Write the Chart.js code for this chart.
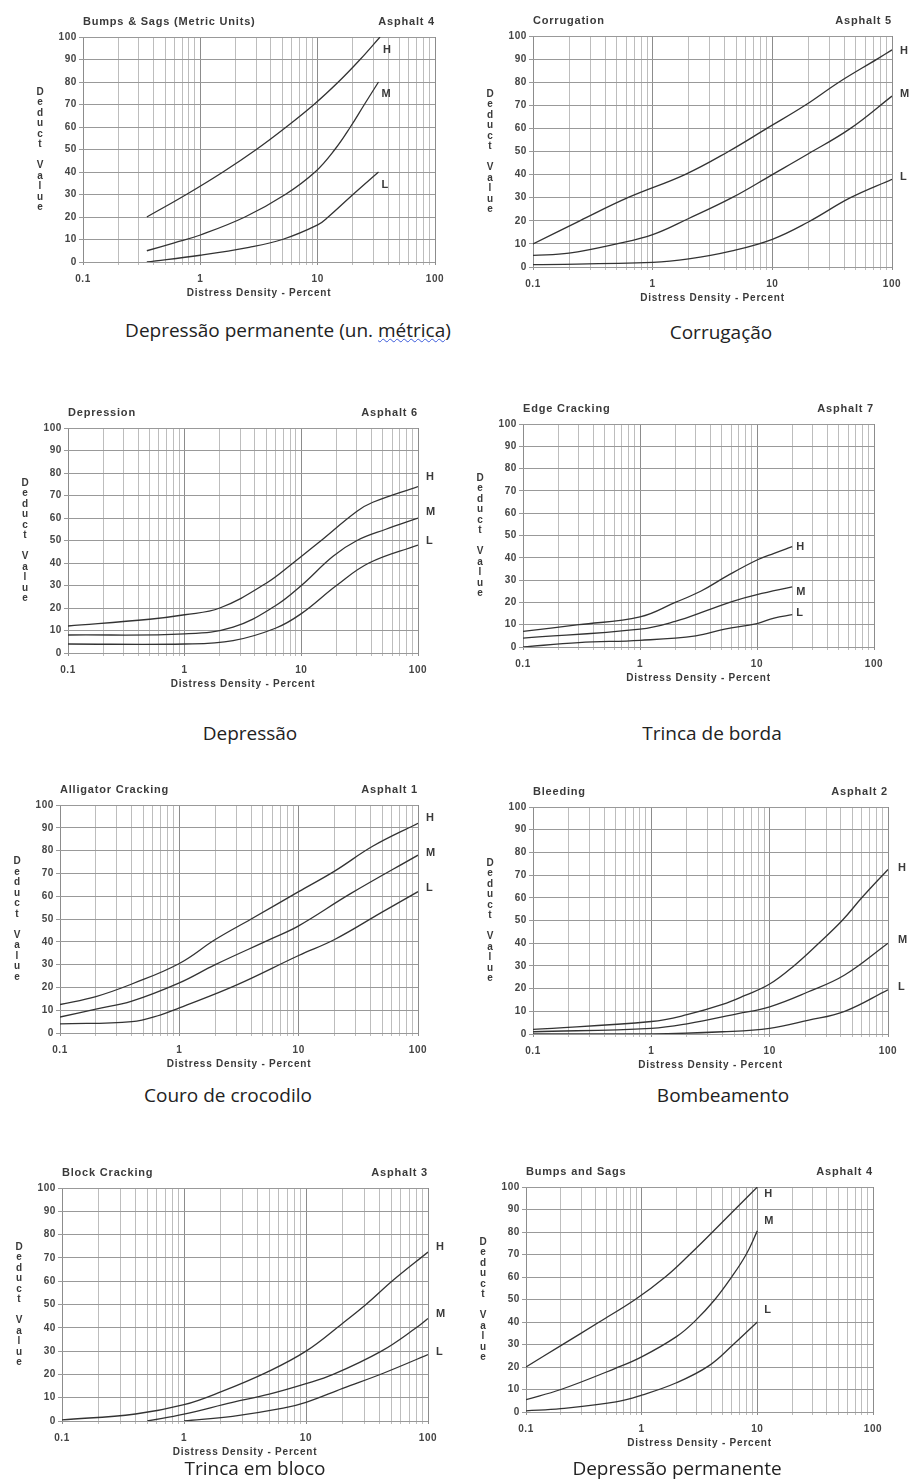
<!DOCTYPE html>
<html lang="pt">
<head>
<meta charset="UTF-8">
<title>Curvas de valor dedutível - revestimento asfáltico</title>
<script src="https://cdn.jsdelivr.net/npm/chart.js@4.4.1/dist/chart.umd.min.js"></script>
<style>
  body { margin: 0; background: #fff; }
  #page { position: relative; width: 913px; height: 1482px; overflow: hidden; }
  canvas { position: absolute; }
  .caption {
    position: absolute;
    transform: translateX(-50%);
    white-space: nowrap;
    font-family: "Open Sans", sans-serif;
    font-size: 19px;
    line-height: 24px;
    color: #222;
  }
  .wavy { text-decoration: underline wavy #3b5bdb; text-decoration-thickness: 1px; }
</style>
</head>
<body>
<div id="page"></div>
<script>
// severity levels and labelled log ticks
var levels = ["H", "M", "L"];
var xLabels = [0.1, 1, 10, 100];

var titles = ["Bumps & Sags (Metric Units)", "Corrugation", "Depression", "Edge Cracking",
              "Alligator Cracking", "Bleeding", "Block Cracking", "Bumps and Sags"];
var asphalt = ["Asphalt 4", "Asphalt 5", "Asphalt 6", "Asphalt 7",
               "Asphalt 1", "Asphalt 2", "Asphalt 3", "Asphalt 4"];
var captions = ["Depressão permanente (un. métrica)", "Corrugação", "Depressão", "Trinca de borda",
                "Couro de crocodilo", "Bombeamento", "Trinca em bloco", "Depressão permanente"];

// curve points [distress density %, deduct value]
var bumpsMetricH = [[0.35,20],[0.76,30],[1.56,40],[3,50],[5.4,60],[9.3,70],[15,80],[23,90],[34,100]];
var bumpsMetricM = [[0.35,5],[0.6,8.5],[1,12],[2.4,20],[5.3,30],[9.5,40],[14,50],[19,60],[25,70],[33,80]];
var bumpsMetricL = [[0.35,0],[1,3],[2.6,6.5],[5,10],[10,16.5],[12.3,20],[20,30],[33,40]];

var corrugationH = [[0.1,10],[0.246,20],[0.62,30],[1.86,40],[4.3,50],[9,60],[18.8,70],[36,80],[75,90],[100,94]];
var corrugationM = [[0.1,5],[0.2,6],[0.5,10],[1,14],[2,21],[4.6,30],[10,40],[20,49],[45,60],[100,74]];
var corrugationL = [[0.1,1],[1,2],[2,3.5],[4.6,7],[10,12],[20,19.5],[45,30],[100,38]];

var depressionH = [[0.1,12],[0.5,15],[1,17],[2,20],[5,31],[8.5,40],[14,49],[30,63],[41,67],[100,74]];
var depressionM = [[0.1,8],[1,8.5],[2.6,11.5],[6,21],[10,30],[18.7,43],[30,50],[53,55],[100,60]];
var depressionL = [[0.1,4],[1,4],[2.6,5.5],[6,11],[10,17.5],[20,30],[38,40],[100,48]];

var edgeH = [[0.1,7],[0.3,10],[1,13.5],[2,20],[3.3,25],[5.6,32],[10,39],[14,42],[20,45]];
var edgeM = [[0.1,4],[1,8],[2,11.5],[3.8,16.5],[6.2,20.5],[10,23.5],[20,27]];
var edgeL = [[0.1,0],[0.3,2],[1,3],[3,5],[5.3,8],[10,10.5],[14,13],[20,14.5]];

var alligatorH = [[0.1,12.5],[0.2,16],[0.4,21.5],[1,30.5],[2,41],[4,50],[10,62],[20,71],[42,82],[100,92]];
var alligatorM = [[0.1,7],[0.2,10.5],[0.4,14],[1,22],[2,30],[6,41.5],[10,47],[27,61],[100,78]];
var alligatorL = [[0.1,4],[0.4,5],[0.7,8],[1,11],[3,21],[10,34],[20,41],[50,53],[100,62]];

var bleedingH = [[0.1,2],[1,5.5],[2,8.5],[4,13],[6.2,17],[10,22],[16,30],[26,40],[41,50],[60,60],[100,72.5]];
var bleedingM = [[0.1,1],[1,2.5],[2,4.5],[5.4,9],[10,12],[21,18.5],[43,26],[100,40]];
var bleedingL = [[0.1,0],[1,0],[4,1],[10,2.5],[21,6],[43,10],[100,19.5]];

var blockH = [[0.1,0.5],[0.4,3],[1,7],[2,12.5],[4.8,21],[10,30],[20,42],[31,50],[52,60.5],[100,72.5]];
var blockM = [[0.5,0],[1,3],[2.5,8],[5,11.5],[10,16],[16.7,20],[41.5,30],[80,40],[100,44]];
var blockL = [[1,0],[2.5,2],[6.5,5.5],[10,8],[20,14],[43,20.5],[100,28.5]];

var bumpsH = [[0.1,20],[0.2,29.5],[0.43,40],[0.88,50],[1.6,60],[2.6,70],[4.1,80],[6.4,90],[10,100]];
var bumpsM = [[0.1,5.5],[0.2,10],[0.6,19.5],[1,24.5],[2,33.5],[2.9,40.5],[4.3,50],[6,60],[8,70],[10,80.5]];
var bumpsL = [[0.1,0.5],[0.2,1.5],[0.6,4.5],[1,7.5],[2,13],[3.8,20.5],[6.2,30],[10,40]];

var curves = [
  [bumpsMetricH, bumpsMetricM, bumpsMetricL],
  [corrugationH, corrugationM, corrugationL],
  [depressionH, depressionM, depressionL],
  [edgeH, edgeM, edgeL],
  [alligatorH, alligatorM, alligatorL],
  [bleedingH, bleedingM, bleedingL],
  [blockH, blockM, blockL],
  [bumpsH, bumpsM, bumpsL]
];

// layout: plot box on the page, caption centre, H/M/L label offsets
var plots = [[83,37,435,262],[533,36,892,267],[68,428,418,653],[523,424,874,647],
             [60,805,418,1033],[533,807,888,1034],[62,1188,428,1421],[526,1187,873,1412]];
var capPos = [[288,330],[721,332],[250,733],[712,733],[228,1095],[723,1095],[255,1468],[677,1468]];
var labelOff = [
  [[3,13],[3,12],[3,13]],
  [[8,1],[8,-2],[8,-2]],
  [[8,-10],[8,-6],[8,-4]],
  [[4,0],[4,5],[4,-2]],
  [[8,-5],[8,-2],[8,-4]],
  [[10,-1],[10,-3],[10,-3]],
  [[8,-5],[8,-5],[8,-3]],
  [[7,7],[7,-10],[7,-12]]
];

var PAD_L = 90, PAD_T = 30, PAD_R = 35, PAD_B = 40;
var FONT = '"Liberation Sans", Arial, sans-serif';

// log grid lines 0.1 .. 100
var gridVals = [];
[0.1, 1, 10].forEach(function(d) {
  for (var m = 1; m <= 9; m++) gridVals.push(+(m * d).toPrecision(3));
});
gridVals.push(100);

var decor = {
  id: 'decor',
  beforeDraw: function(chart) {
    chart.ctx.letterSpacing = '0.6px';
  },
  afterDraw: function(chart) {
    var o = chart.options.plugins.decor;
    var a = chart.chartArea, ctx = chart.ctx;
    ctx.save();
    ctx.fillStyle = '#3a3a3a';
    ctx.textBaseline = 'middle';
    ctx.letterSpacing = '0.8px';
    ctx.font = 'bold 11px ' + FONT;
    ctx.textAlign = 'left';
    ctx.fillText(o.title, a.left, a.top - 15);
    ctx.textAlign = 'right';
    ctx.fillText(o.asphalt, a.right, a.top - 15);

    ctx.font = 'bold 10px ' + FONT;
    ctx.textAlign = 'center';
    ctx.fillText('Distress Density - Percent', (a.left + a.right) / 2, a.bottom + 31);

    ctx.letterSpacing = '0px';
    var letters = 'Deduct Value'.split('');
    var step = 10.5;
    var y0 = (a.top + a.bottom) / 2 - step * (letters.length - 1) / 2;
    letters.forEach(function(ch, i) {
      ctx.fillText(ch, a.left - 43, y0 + i * step);
    });

    ctx.font = 'bold 11px ' + FONT;
    ctx.textAlign = 'left';
    chart.data.datasets.forEach(function(ds, i) {
      var meta = chart.getDatasetMeta(i);
      var p = meta.data[meta.data.length - 1];
      var off = o.offsets[i];
      ctx.fillText(ds.label, p.x + off[0], p.y + off[1]);
    });
    ctx.restore();
  }
};

var page = document.getElementById('page');

plots.forEach(function(box, k) {
  var cv = document.createElement('canvas');
  var w = box[2] - box[0] + PAD_L + PAD_R;
  var h = box[3] - box[1] + PAD_T + PAD_B;
  cv.width = w; cv.height = h;
  cv.style.left = (box[0] - PAD_L) + 'px';
  cv.style.top = (box[1] - PAD_T) + 'px';
  cv.style.width = w + 'px'; cv.style.height = h + 'px';
  page.appendChild(cv);

  var datasets = curves[k].map(function(pts, i) {
    return {
      label: levels[i],
      data: pts.map(function(p) { return { x: p[0], y: p[1] }; }),
      borderColor: '#333',
      borderWidth: 1.3,
      pointRadius: 0,
      fill: false,
      tension: 0.4
    };
  });

  new Chart(cv.getContext('2d'), {
    type: 'line',
    data: { datasets: datasets },
    plugins: [decor],
    options: {
      responsive: false,
      animation: false,
      layout: { padding: { left: 0, top: PAD_T, right: PAD_R, bottom: 0 } },
      plugins: {
        legend: { display: false },
        tooltip: { enabled: false },
        decor: { title: titles[k], asphalt: asphalt[k], offsets: labelOff[k] }
      },
      scales: {
        x: {
          type: 'logarithmic',
          min: 0.1, max: 100,
          afterBuildTicks: function(scale) {
            scale.ticks = gridVals.map(function(v) { return { value: v }; });
          },
          afterFit: function(scale) { scale.height = PAD_B; },
          border: { display: false },
          grid: {
            color: function(c) {
              var v = c.tick ? c.tick.value : 0;
              return xLabels.indexOf(v) >= 0 ? '#8c8c8c' : '#bdbdbd';
            },
            lineWidth: 1,
            tickLength: 3
          },
          ticks: {
            autoSkip: false,
            maxRotation: 0,
            padding: 8,
            color: '#444',
            font: { family: FONT, size: 10, weight: 'bold' },
            callback: function(v) { return xLabels.indexOf(v) >= 0 ? String(v) : ''; }
          }
        },
        y: {
          min: 0, max: 100,
          afterFit: function(scale) { scale.width = PAD_L; },
          border: { display: false },
          grid: { color: '#999', lineWidth: 1, tickLength: 4 },
          ticks: {
            stepSize: 10,
            padding: 2,
            color: '#444',
            font: { family: FONT, size: 10, weight: 'bold' }
          }
        }
      }
    }
  });

  var cap = document.createElement('div');
  cap.className = 'caption';
  cap.style.left = capPos[k][0] + 'px';
  cap.style.top = (capPos[k][1] - 12) + 'px';
  cap.innerHTML = captions[k].replace('métrica', '<span class="wavy">métrica</span>');
  page.appendChild(cap);
});
</script>
</body>
</html>
